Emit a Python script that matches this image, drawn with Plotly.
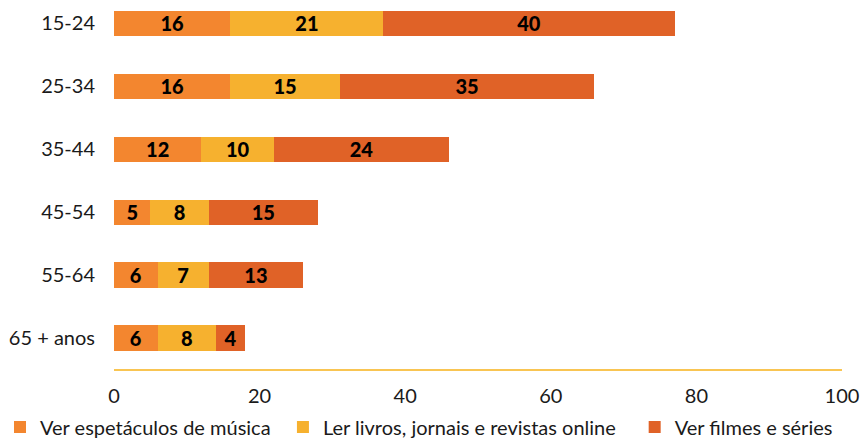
import plotly.graph_objects as go

# Age groups (top to bottom) and the three online activities
age_groups = ["15-24", "25-34", "35-44", "45-54", "55-64", "65 + anos"]
musica = [16, 16, 12, 5, 6, 6]
leitura = [21, 15, 10, 8, 7, 8]
filmes = [40, 35, 24, 15, 13, 4]
series_names = [
    "Ver espetáculos de música",
    "Ler livros, jornais e revistas online",
    "Ver filmes e séries",
]
series_values = [musica, leitura, filmes]
colors = ["#F3862F", "#F6B12F", "#E06227"]
x_ticks = [0, 20, 40, 60, 80, 100]

FONT = "Lato"
TXT = "#1a1a1a"

fig = go.Figure()
legend_ids = ["legend", "legend2", "legend3"]
for name, vals, col, lg in zip(series_names, series_values, colors, legend_ids):
    fig.add_trace(go.Bar(
        y=age_groups,
        x=vals,
        name=name,
        orientation="h",
        marker=dict(color=col, line=dict(width=0)),
        text=[str(v) for v in vals],
        textposition="inside",
        insidetextanchor="middle",
        constraintext="none",
        textangle=0,
        textfont=dict(family=FONT, size=20, color="black", weight=900),
        cliponaxis=False,
        showlegend=True,
        legend=lg,
    ))

legend_common = dict(
    orientation="h",
    yanchor="middle",
    xanchor="left",
    yref="container",
    xref="container",
    font=dict(family=FONT, size=20, color=TXT),
    bgcolor="rgba(0,0,0,0)",
    itemwidth=30,
    tracegroupgap=0,
    visible=True,
)

fig.update_layout(
    width=860,
    height=442,
    showlegend=True,
    margin=dict(l=114, r=18, t=0, b=70),
    paper_bgcolor="white",
    plot_bgcolor="white",
    barmode="stack",
    bargap=0.6,
    font=dict(family=FONT, size=20, color=TXT),
    xaxis=dict(
        range=[0, 100],
        tickvals=x_ticks,
        showgrid=False,
        zeroline=False,
        showline=True,
        linecolor="#F9C552",
        linewidth=2,
        ticks="",
        ticklabelstandoff=8,
        tickfont=dict(family=FONT, size=20, color=TXT),
    ),
    yaxis=dict(
        categoryorder="array",
        categoryarray=age_groups,
        range=[5.5, -0.37],
        showgrid=False,
        zeroline=False,
        showline=False,
        ticks="",
        ticklabelstandoff=18,
        tickfont=dict(family=FONT, size=20, color=TXT),
    ),
    legend=dict(legend_common, x=0.0, y=0.034),
    legend2=dict(legend_common, x=0.329, y=0.034),
    legend3=dict(legend_common, x=0.738, y=0.034),
)

fig.write_html("out.html")
